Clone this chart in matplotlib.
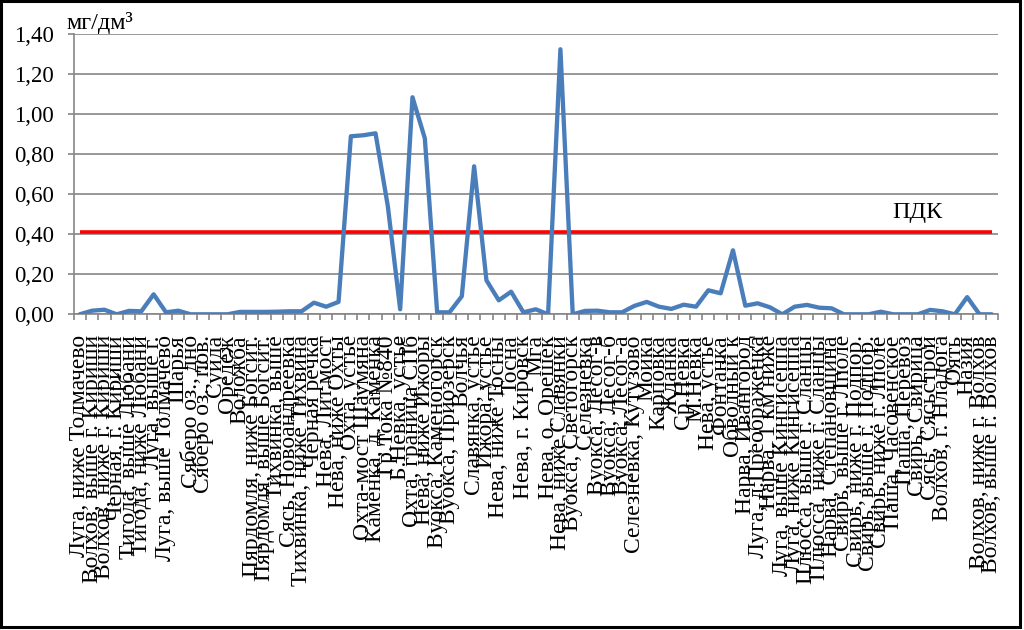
import matplotlib
matplotlib.use('Agg')
import matplotlib.pyplot as plt
from matplotlib.ticker import FuncFormatter
from matplotlib.patches import Rectangle
import numpy as np

plt.rcParams['font.family'] = ['Liberation Serif', 'DejaVu Serif']

categories = [
    "Луга, ниже Толмачево", "Волхов, выше г. Кириши", "Волхов, ниже г. Кириши",
    "Черная, г. Кириши", "Тигода, выше Любани", "Тигода, ниже Любани",
    "Луга, выше г.", "Луга, выше Толмачево", "Шарья", "Сяберо оз., дно",
    "Сяберо оз., пов.", "Суйда", "Оредеж", "Воложба",
    "Пярдомля, ниже Богсит.", "Пярдомля, выше Богсит.", "Тихвинка, выше",
    "Сясь, Новоандреевка", "Тихвинка, ниже Тихвина", "Черная речка",
    "Нева, Лит.мост", "Нева, ниже Охты", "Охта, устье", "Охта-мост Шаумяна",
    "Каменка, д. Каменка", "Гр.Тока №840", "Б.Невка, устье", "Охта, граница СПб",
    "Нева, ниже Ижоры", "Вуокса, Каменогорск", "Вуокса, Приозерск", "Волчья",
    "Славянка, устье", "Ижора, устье", "Нева, ниже Тосны", "Тосна",
    "Нева, г. Кировск", "Мга", "Нева, о. Орешек", "Нева, ниже Славянки",
    "Вуокса, Светогорск", "Селезневка", "Вуокса, Лесог-в", "Вуокса, Лесог-б",
    "Вуокса, Лесог-а", "Селезневка, Кутузово", "Мойка", "Карповка", "Жданка",
    "Ср.Невка", "М.Невка", "Нева, устье", "Фонтанка", "Обводный к",
    "Нарва, Ивангород", "Луга, д.Преображенка", "Нарва, 1 км ниже",
    "Луга, выше Кингисеппа", "Луга, ниже Кингисеппа", "Плюсса, выше г. Сланцы",
    "Плюсса, ниже г. Сланцы", "Нарва, Степановщина", "Свирь, выше г. Лполе",
    "Свирь, ниже г. Подпор.", "Свирь, выше г. Подпор.", "Свирь, ниже г. Лполе",
    "Паша, Часовенское", "Паша, Перевоз", "Свирь, Свирица", "Сясь, Сясьстрой",
    "Волхов, г. Нладога", "Оять", "Назия", "Волхов, ниже г. Волхов",
    "Волхов, выше г. Волхов",
]

values = [
    0.00, 0.018, 0.023, 0.00, 0.017, 0.015, 0.10, 0.010, 0.018, 0.00,
    0.00, 0.00, 0.00, 0.012, 0.012, 0.012, 0.013, 0.015, 0.015, 0.058,
    0.038, 0.062, 0.89, 0.895, 0.905, 0.54, 0.025, 1.085, 0.88, 0.010,
    0.010, 0.09, 0.74, 0.17, 0.07, 0.113, 0.010, 0.025, 0.00, 1.325,
    0.00, 0.017, 0.018, 0.010, 0.010, 0.042, 0.062, 0.038, 0.027, 0.048,
    0.038, 0.12, 0.105, 0.32, 0.043, 0.055, 0.035, 0.00, 0.038, 0.047,
    0.033, 0.030, 0.00, 0.00, 0.00, 0.013, 0.00, 0.00, 0.00, 0.022,
    0.015, 0.00, 0.086, 0.00, 0.00,
]

pdk_value = 0.41
pdk_label = "ПДК"
unit_label = "мг/дм³"
y_ticks = [0.0, 0.2, 0.4, 0.6, 0.8, 1.0, 1.2, 1.4]

n = len(categories)
x = np.arange(n)

fig = plt.figure(figsize=(10.24, 6.30), dpi=100)
ax = fig.add_axes([0.0718, 0.5011, 0.9028, 0.4445])

grid_col = '#868686'
ax.plot(x, values, color='#4a7ebb', lw=3.1, solid_joinstyle='round',
        solid_capstyle='round', zorder=3)
ax.plot([x[0], x[-1]], [pdk_value, pdk_value], color='#ff0000', lw=2.6,
        solid_capstyle='butt', zorder=2)
ax.text(68, 0.48, pdk_label, ha='center', va='baseline', fontsize=17.5)

ax.set_xlim(-0.5, n - 0.5)
ax.set_ylim(0, 1.4)
ax.set_yticks(y_ticks)
ax.yaxis.set_major_formatter(FuncFormatter(lambda v, p: f'{v:.2f}'.replace('.', ',')))
ax.grid(axis='y', color=grid_col, lw=1.2)
ax.set_axisbelow(True)
for s in ['top', 'right']:
    ax.spines[s].set_visible(False)
for s in ['left', 'bottom']:
    ax.spines[s].set_color(grid_col)
    ax.spines[s].set_linewidth(1.2)

ax.set_xticks(x)
ax.set_xticklabels(categories, rotation=90, fontsize=17, va='top', ha='center')
ax.tick_params(axis='x', which='major', length=0, pad=15)
ax.set_xticks(np.arange(-0.5, n, 1), minor=True)
ax.tick_params(axis='x', which='minor', length=4, color=grid_col, width=1.2,
               direction='out')
ax.tick_params(axis='y', length=4, color=grid_col, width=1.2, labelsize=16.5, pad=10)

fig.text(66 / 1024, 1 - 29 / 630, unit_label, fontsize=17.5, ha='left', va='baseline')

fig.patches.append(Rectangle((0.001, 0.004), 0.995, 0.994, transform=fig.transFigure,
                             fill=False, edgecolor='black', lw=2.2))

fig.savefig('out.png', dpi=100)
